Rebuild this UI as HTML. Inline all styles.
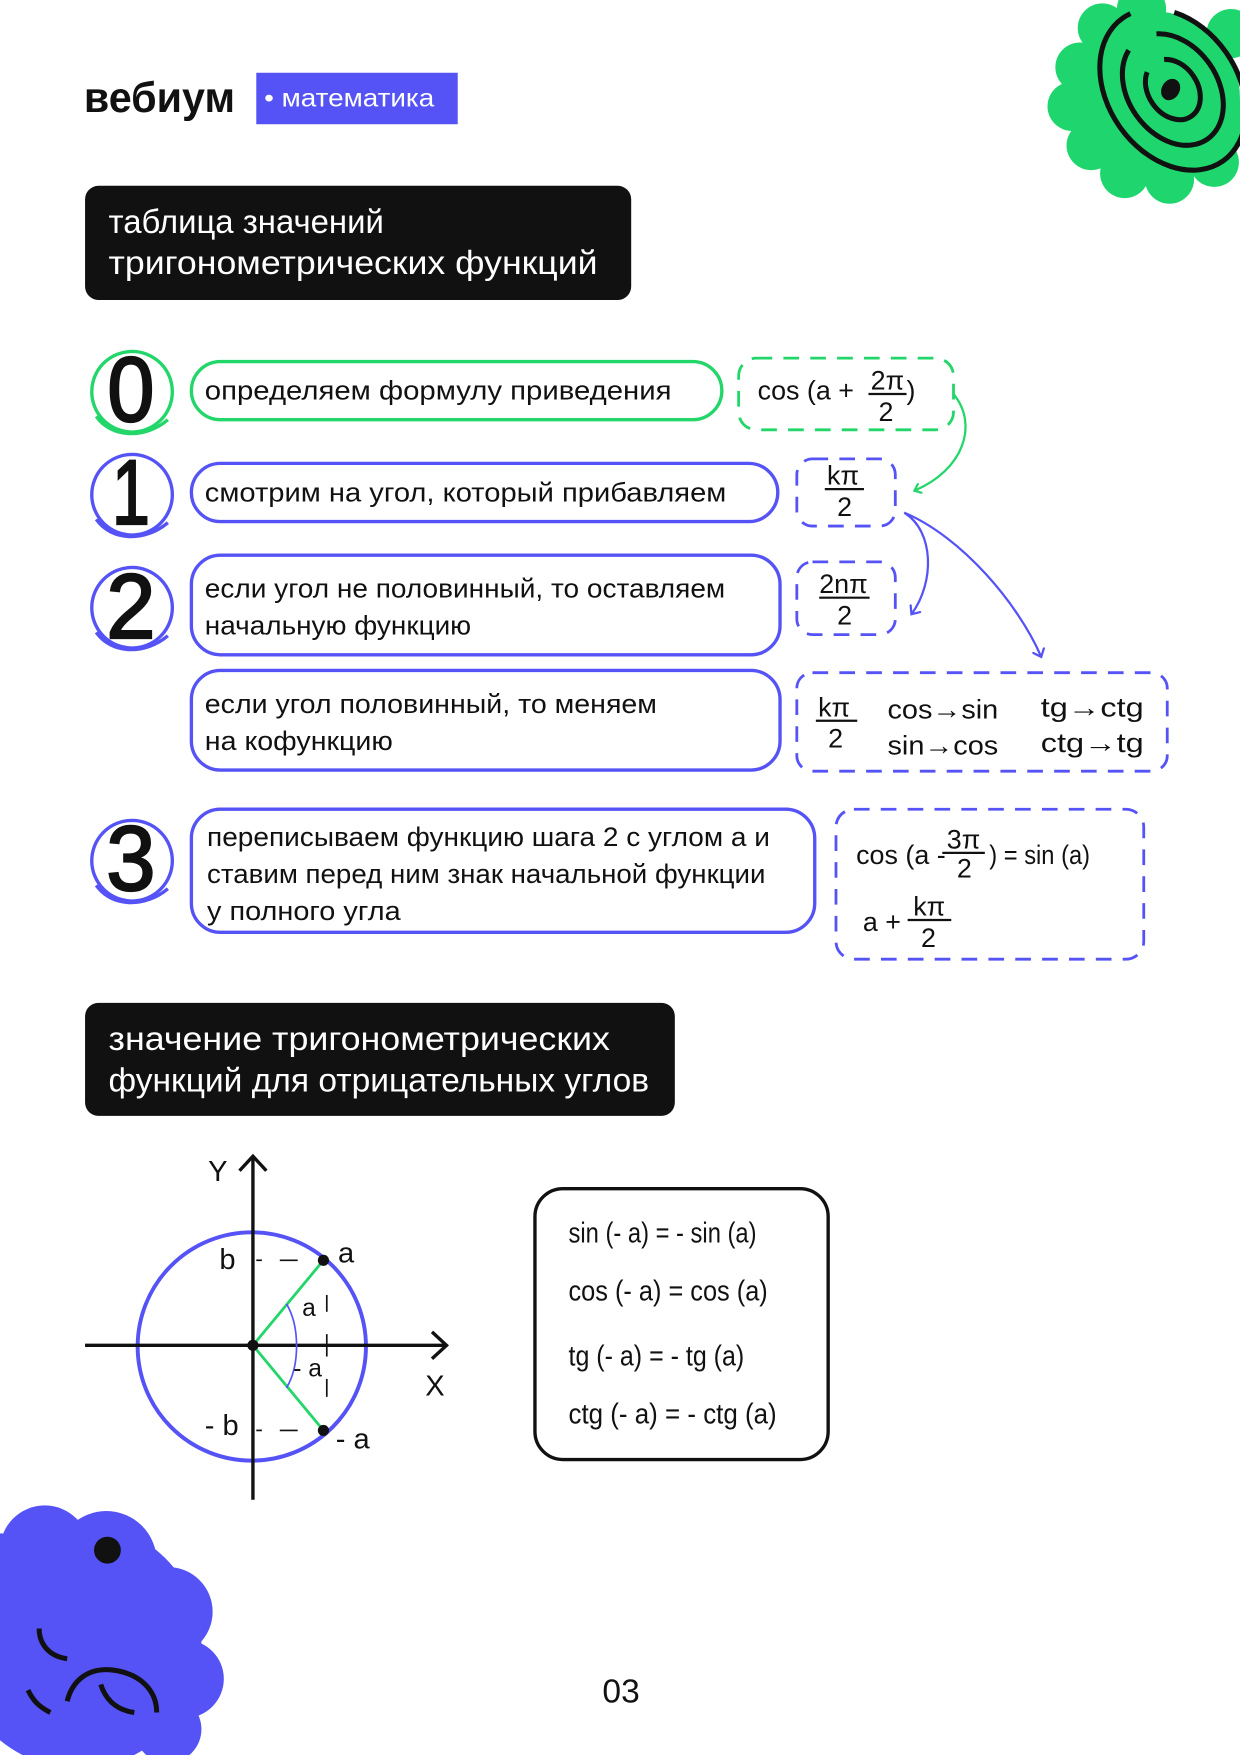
<!DOCTYPE html>
<html><head><meta charset="utf-8"><style>
html,body{margin:0;padding:0;background:#fff;width:1240px;height:1755px;overflow:hidden}
svg{display:block}
text{font-family:"Liberation Sans",sans-serif}
</style></head><body>
<svg width="1240" height="1755" viewBox="0 0 1108 1568" preserveAspectRatio="none" xmlns="http://www.w3.org/2000/svg">
<defs>
<marker id="ag" markerWidth="10" markerHeight="10" refX="5" refY="5" orient="auto" markerUnits="userSpaceOnUse"><path d="M0,0 L6,5 L0,10" fill="none" stroke="#22d66a" stroke-width="2"/></marker>
<marker id="ab" markerWidth="12" markerHeight="12" refX="6" refY="6" orient="auto" markerUnits="userSpaceOnUse"><path d="M0,0 L7,6 L0,12" fill="none" stroke="#5553f5" stroke-width="2"/></marker>
</defs>
<!-- green blob -->
<g fill="#1fd66e">
<circle cx="1030" cy="88" r="78"/>
<circle cx="965" cy="60" r="22"/><circle cx="958" cy="95" r="22"/><circle cx="975" cy="130" r="22"/>
<circle cx="1005" cy="155" r="22"/><circle cx="1045" cy="160" r="22"/><circle cx="1085" cy="145" r="22"/>
<circle cx="1100" cy="110" r="22"/><circle cx="985" cy="25" r="22"/><circle cx="1020" cy="8" r="22"/>
<circle cx="1100" cy="30" r="22"/>
</g>
<g fill="none" stroke="#111" stroke-width="4.5" transform="rotate(-35 1048 80)">
<ellipse cx="1048" cy="80" rx="58" ry="78" stroke-dasharray="330 40"/>
<ellipse cx="1048" cy="80" rx="40" ry="54" stroke-dasharray="210 30"/>
<ellipse cx="1048" cy="80" rx="22" ry="29" stroke-dasharray="110 20"/>
</g>
<ellipse cx="1046" cy="80" rx="8" ry="10" fill="#111" transform="rotate(30 1046 80)"/>
<!-- purple blob bottom left -->
<g fill="#5553f5">
<circle cx="70" cy="1470" r="110"/>
<circle cx="95" cy="1395" r="45"/><circle cx="40" cy="1385" r="40"/><circle cx="150" cy="1440" r="40"/>
<circle cx="165" cy="1500" r="35"/><circle cx="150" cy="1545" r="30"/><circle cx="0" cy="1420" r="50"/>
</g>
<circle cx="96" cy="1385" r="12" fill="#111"/>
<g fill="none" stroke="#111" stroke-width="4.5">
<path d="M35 1455 C35 1470 45 1480 60 1482"/>
<path d="M25 1510 C30 1520 35 1525 45 1530"/>
<path d="M60 1520 C65 1500 80 1490 100 1492 C125 1495 140 1510 140 1530"/>
<path d="M90 1505 C95 1520 105 1528 120 1530"/>
</g>
<!-- header -->
<text x="75" y="100" font-size="38" font-weight="bold" fill="#111" textLength="135" lengthAdjust="spacingAndGlyphs">вебиум</text>
<rect x="229" y="65" width="180" height="46" fill="#5553f5"/>
<text x="236" y="95" font-size="22" fill="#fff" textLength="152" lengthAdjust="spacingAndGlyphs">• математика</text>
<!-- black box 1 -->
<rect x="76" y="166" width="488" height="102" rx="12" fill="#111"/>
<text x="97" y="208" font-size="30" fill="#fff" textLength="246" lengthAdjust="spacingAndGlyphs">таблица значений</text>
<text x="97" y="245" font-size="30" fill="#fff" textLength="437" lengthAdjust="spacingAndGlyphs">тригонометрических функций</text>
<!-- digits -->
<g fill="none" stroke-width="3">
<circle cx="118" cy="350" r="36" stroke="#22d66a"/><path d="M86 372 C100 392 130 392 150 375" stroke="#22d66a"/>
<circle cx="118" cy="442" r="36" stroke="#5553f5"/><path d="M86 464 C100 484 130 484 150 467" stroke="#5553f5"/>
<circle cx="118" cy="543" r="36" stroke="#5553f5"/><path d="M86 565 C100 585 130 585 150 568" stroke="#5553f5"/>
<circle cx="118" cy="769" r="36" stroke="#5553f5"/><path d="M86 791 C100 811 130 811 150 794" stroke="#5553f5"/>
</g>
<g font-size="82" fill="#111" stroke="#111" stroke-width="2" text-anchor="middle">
<text x="117" y="376" textLength="42" lengthAdjust="spacingAndGlyphs">0</text>
<text x="117" y="468" textLength="34" lengthAdjust="spacingAndGlyphs">1</text>
<text x="117" y="570" textLength="44" lengthAdjust="spacingAndGlyphs">2</text>
<text x="117" y="795" textLength="44" lengthAdjust="spacingAndGlyphs">3</text>
</g>
<!-- pills -->
<g fill="none" stroke-width="3">
<rect x="171" y="323" width="474" height="52" rx="26" stroke="#22d66a"/>
<rect x="171" y="414" width="524" height="52" rx="26" stroke="#5553f5"/>
<rect x="171" y="496" width="526" height="89" rx="26" stroke="#5553f5"/>
<rect x="171" y="599" width="526" height="89" rx="26" stroke="#5553f5"/>
<rect x="171" y="723" width="557" height="110" rx="26" stroke="#5553f5"/>
</g>
<g font-size="24" fill="#111">
<text x="183" y="357" textLength="417" lengthAdjust="spacingAndGlyphs">определяем формулу приведения</text>
<text x="183" y="448" textLength="466" lengthAdjust="spacingAndGlyphs">смотрим на угол, который прибавляем</text>
<text x="183" y="534" textLength="465" lengthAdjust="spacingAndGlyphs">если угол не половинный, то оставляем</text>
<text x="183" y="567" textLength="238" lengthAdjust="spacingAndGlyphs">начальную функцию</text>
<text x="183" y="637" textLength="404" lengthAdjust="spacingAndGlyphs">если угол  половинный, то меняем</text>
<text x="183" y="670" textLength="168" lengthAdjust="spacingAndGlyphs">на кофункцию</text>
<text x="185" y="756" textLength="503" lengthAdjust="spacingAndGlyphs">переписываем функцию шага 2 с углом a и</text>
<text x="185" y="789" textLength="499" lengthAdjust="spacingAndGlyphs">ставим перед ним знак начальной функции</text>
<text x="185" y="822" textLength="173" lengthAdjust="spacingAndGlyphs">у полного угла</text>
</g>
<!-- dashed boxes -->
<g fill="none" stroke-width="2.5" stroke-dasharray="14 10">
<rect x="660" y="320" width="192" height="64" rx="16" stroke="#22d66a"/>
<rect x="712" y="410" width="88" height="60" rx="14" stroke="#5553f5"/>
<rect x="712" y="502" width="88" height="65" rx="14" stroke="#5553f5"/>
<rect x="712" y="601" width="331" height="88" rx="14" stroke="#5553f5"/>
<rect x="747" y="723" width="275" height="134" rx="16" stroke="#5553f5"/>
</g>
<g font-size="24" fill="#111">
<text x="677" y="357">cos (a +</text>
<text x="778" y="348">2π</text><line x1="776" y1="352" x2="810" y2="352" stroke="#111" stroke-width="2"/><text x="785" y="376">2</text>
<text x="810" y="357">)</text>
<text x="739" y="433">kπ</text><line x1="737" y1="437" x2="772" y2="437" stroke="#111" stroke-width="2"/><text x="748" y="461">2</text>
<text x="732" y="530">2nπ</text><line x1="732" y1="534" x2="777" y2="534" stroke="#111" stroke-width="2"/><text x="748" y="558">2</text>
<text x="731" y="640">kπ</text><line x1="729" y1="644" x2="766" y2="644" stroke="#111" stroke-width="2"/><text x="740" y="668">2</text>
<text x="793" y="642" textLength="99" lengthAdjust="spacingAndGlyphs">cos→sin</text><text x="793" y="674" textLength="99" lengthAdjust="spacingAndGlyphs">sin→cos</text>
<text x="930" y="640" textLength="92" lengthAdjust="spacingAndGlyphs">tg→ctg</text><text x="930" y="672" textLength="92" lengthAdjust="spacingAndGlyphs">ctg→tg</text>
<text x="765" y="772">cos (a -</text>
<text x="846" y="758">3π</text><line x1="842" y1="762" x2="880" y2="762" stroke="#111" stroke-width="2"/><text x="855" y="784">2</text>
<text x="884" y="772" textLength="90" lengthAdjust="spacingAndGlyphs">) = sin (a)</text>
<text x="771" y="832">a +</text>
<text x="816" y="818">kπ</text><line x1="811" y1="822" x2="850" y2="822" stroke="#111" stroke-width="2"/><text x="823" y="846">2</text>
</g>
<!-- connector arrows -->
<path d="M852 352 C875 380 860 420 818 438" fill="none" stroke="#22d66a" stroke-width="2" marker-end="url(#ag)"/>
<path d="M808 458 C835 475 835 520 815 548" fill="none" stroke="#5553f5" stroke-width="2" marker-end="url(#ab)"/>
<path d="M808 458 C860 480 910 540 930 586" fill="none" stroke="#5553f5" stroke-width="2" marker-end="url(#ab)"/>
<!-- black box 2 -->
<rect x="76" y="896" width="527" height="101" rx="12" fill="#111"/>
<text x="97" y="938" font-size="30" fill="#fff" textLength="448" lengthAdjust="spacingAndGlyphs">значение тригонометрических</text>
<text x="97" y="975" font-size="30" fill="#fff" textLength="483" lengthAdjust="spacingAndGlyphs">функций для отрицательных углов</text>
<!-- graph -->
<circle cx="225" cy="1203" r="102" fill="none" stroke="#5553f5" stroke-width="3.5"/>
<line x1="76" y1="1202" x2="398" y2="1202" stroke="#111" stroke-width="3"/>
<path d="M386 1190 L399 1202 L386 1214" fill="none" stroke="#111" stroke-width="3"/>
<line x1="226" y1="1034" x2="226" y2="1340" stroke="#111" stroke-width="3"/>
<path d="M214 1046 L226 1033 L238 1046" fill="none" stroke="#111" stroke-width="3"/>
<line x1="226" y1="1202" x2="289" y2="1126" stroke="#22d66a" stroke-width="2.5"/>
<line x1="226" y1="1202" x2="289" y2="1278" stroke="#22d66a" stroke-width="2.5"/>
<circle cx="226" cy="1202" r="5" fill="#111"/><circle cx="289" cy="1126" r="5" fill="#111"/><circle cx="289" cy="1278" r="5" fill="#111"/>
<path d="M256 1165 C268 1185 268 1220 256 1240" fill="none" stroke="#5553f5" stroke-width="1.5"/>
<g stroke="#111" stroke-width="1.5"><line x1="250" y1="1126" x2="266" y2="1126"/><line x1="250" y1="1278" x2="266" y2="1278"/>
<line x1="229" y1="1126" x2="234" y2="1126"/><line x1="229" y1="1278" x2="234" y2="1278"/>
<line x1="292" y1="1157" x2="292" y2="1172"/><line x1="292" y1="1192" x2="292" y2="1212"/><line x1="292" y1="1232" x2="292" y2="1248"/></g>
<g font-size="26" fill="#111">
<text x="186" y="1055">Y</text><text x="380" y="1247">X</text>
<text x="196" y="1134">b</text><text x="183" y="1282">- b</text>
<text x="302" y="1128">a</text><text x="300" y="1294">- a</text>
<text x="270" y="1176" font-size="22">a</text><text x="262" y="1230" font-size="22">- a</text>
</g>
<!-- formula box -->
<rect x="478" y="1062" width="262" height="242" rx="25" fill="none" stroke="#111" stroke-width="3"/>
<g font-size="26" fill="#111">
<text x="508" y="1110" textLength="168" lengthAdjust="spacingAndGlyphs">sin (- a) = - sin (a)</text>
<text x="508" y="1162" textLength="178" lengthAdjust="spacingAndGlyphs">cos (- a) = cos (a)</text>
<text x="508" y="1220" textLength="157" lengthAdjust="spacingAndGlyphs">tg (- a) = - tg (a)</text>
<text x="508" y="1272" textLength="186" lengthAdjust="spacingAndGlyphs">ctg (- a) = - ctg (a)</text>
</g>
<text x="555" y="1521" font-size="30" fill="#111" text-anchor="middle">03</text>
</svg>
</body></html>
